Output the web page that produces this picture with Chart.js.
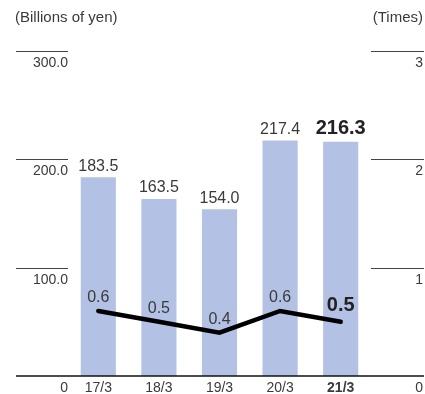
<!DOCTYPE html>
<html>
<head>
<meta charset="utf-8">
<script src="https://cdn.jsdelivr.net/npm/chart.js@4"></script>
<style>
  body { margin: 0; background: #fff; }
</style>
</head>
<body>
<canvas id="chartCanvas" width="425" height="394"></canvas>
<script>
//data
const fiscalYears = ["17/3", "18/3", "19/3", "20/3", "21/3"];
const amountBillions = [183.5, 163.5, 154.0, 217.4, 216.3];
const ratioTimes = [0.6, 0.5, 0.4, 0.6, 0.5];
const yenTicks = [0, 100, 200, 300];
const timesTicks = [0, 1, 2, 3];

//styles
const FONT = "'Liberation Sans', Arial, sans-serif";
const TEXT = "#3a3a3a";
const BAR = "#b2c1e4";
const latest = fiscalYears.length - 1;

//short rules outside the plot, baseline, unit captions and value labels
const decorPlugin = {
  id: "decor",
  afterDatasetsDraw(chart) {
    const ctx = chart.ctx;
    const area = chart.chartArea;
    const yL = chart.scales.y;
    ctx.save();
    ctx.strokeStyle = "#444";
    ctx.lineWidth = 1;
    yenTicks.forEach((v) => {
      if (v === 0) return;
      const py = Math.round(yL.getPixelForValue(v)) + 0.5;
      ctx.beginPath();
      ctx.moveTo(16, py);
      ctx.lineTo(area.left, py);
      ctx.moveTo(area.right, py);
      ctx.lineTo(424, py);
      ctx.stroke();
    });
    //baseline
    ctx.strokeStyle = "#111";
    ctx.lineWidth = 1.5;
    const by = yL.getPixelForValue(0);
    ctx.beginPath();
    ctx.moveTo(16, by);
    ctx.lineTo(424, by);
    ctx.stroke();

    //unit captions
    ctx.fillStyle = TEXT;
    ctx.font = "15px " + FONT;
    ctx.textBaseline = "middle";
    ctx.textAlign = "left";
    ctx.fillText("(Billions of yen)", 15, 18);
    ctx.textAlign = "right";
    ctx.fillText("(Times)", 423, 18);

    //bar values
    ctx.textAlign = "center";
    chart.getDatasetMeta(1).data.forEach((bar, i) => {
      const bold = i === latest;
      ctx.font = (bold ? "bold 20px " : "16px ") + FONT;
      ctx.fillStyle = bold ? "#222" : TEXT;
      ctx.fillText(amountBillions[i].toFixed(1), bar.x, bar.y - (bold ? 13 : 11));
    });
    //ratio values
    chart.getDatasetMeta(0).data.forEach((pt, i) => {
      const bold = i === latest;
      ctx.font = (bold ? "bold 20px " : "16px ") + FONT;
      ctx.fillStyle = bold ? "#222" : TEXT;
      ctx.fillText(ratioTimes[i].toFixed(1), pt.x, pt.y - (bold ? 16 : 13));
    });
    ctx.restore();
  },
};

const chart = new Chart(document.getElementById("chartCanvas"), {
  data: {
    labels: fiscalYears,
    datasets: [
      {
        type: "line",
        data: ratioTimes,
        yAxisID: "y1",
        borderColor: "#000",
        borderWidth: 4.5,
        borderCapStyle: "round",
        borderJoinStyle: "miter",
        pointRadius: 0,
        tension: 0,
        order: 0,
      },
      {
        type: "bar",
        data: amountBillions,
        yAxisID: "y",
        backgroundColor: BAR,
        categoryPercentage: 1,
        barPercentage: 0.58,
        order: 1,
      },
    ],
  },
  options: {
    responsive: false,
    animation: false,
    devicePixelRatio: 1,
    layout: { padding: { top: 51, right: 2, left: 0, bottom: 0 } },
    plugins: { legend: { display: false }, tooltip: { enabled: false } },
    scales: {
      x: {
        grid: { display: false, drawTicks: false },
        border: { display: false },
        ticks: {
          padding: 4,
          color: TEXT,
          font: (c) => ({
            family: FONT,
            size: 14,
            weight: c.index === latest ? "bold" : "normal",
          }),
        },
        afterFit: (s) => { s.height = 18; },
      },
      y: {
        position: "left",
        min: 0,
        max: 300,
        grid: { display: false, drawTicks: false },
        border: { display: false },
        afterBuildTicks: (s) => { s.ticks = yenTicks.map((v) => ({ value: v })); },
        ticks: {
          padding: 0,
          labelOffset: 12,
          color: TEXT,
          font: { family: FONT, size: 14 },
          callback: (v) => (v === 0 ? "0" : v.toFixed(1)),
        },
        afterFit: (s) => { s.width = 68; },
      },
      y1: {
        position: "right",
        min: 0,
        max: 3,
        grid: { display: false, drawTicks: false },
        border: { display: false },
        afterBuildTicks: (s) => { s.ticks = timesTicks.map((v) => ({ value: v })); },
        ticks: {
          padding: 0,
          labelOffset: 12,
          crossAlign: "far",
          color: TEXT,
          font: { family: FONT, size: 14 },
          callback: (v) => String(v),
        },
        afterFit: (s) => { s.width = 52; },
      },
    },
  },
  plugins: [decorPlugin],
});
</script>
</body>
</html>
